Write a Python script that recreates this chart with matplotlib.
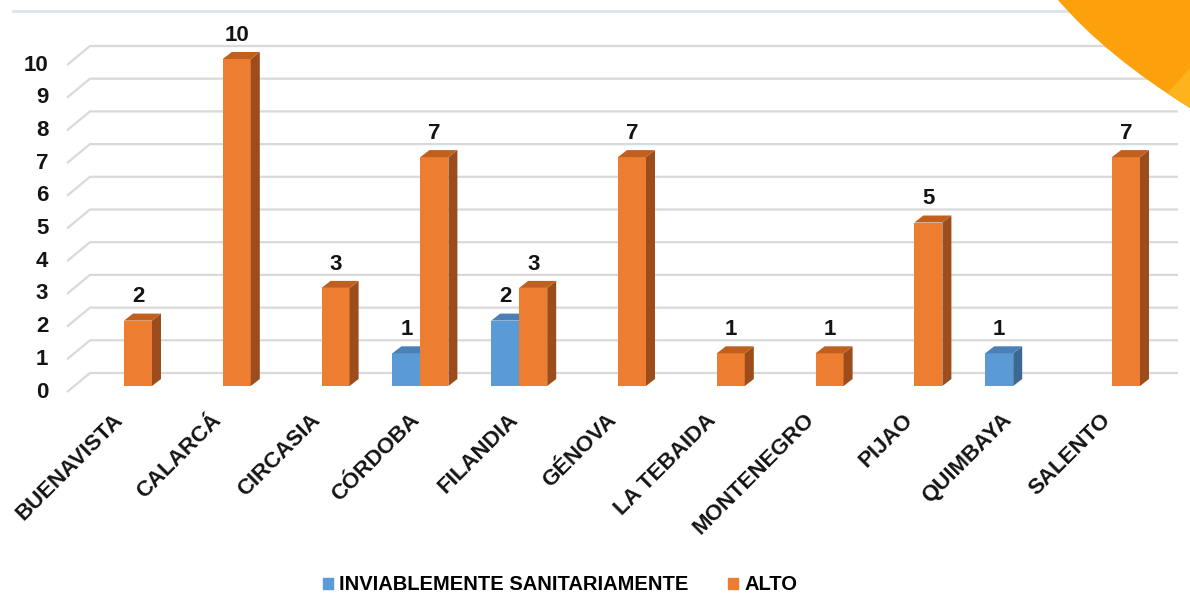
import numpy as np
import matplotlib
matplotlib.use("Agg")
import matplotlib.pyplot as plt
from matplotlib.patches import Polygon, PathPatch, Patch
from matplotlib.path import Path

plt.rcParams["font.family"] = ["Liberation Sans", "DejaVu Sans"]
plt.rcParams["font.weight"] = "bold"

# -----------------------------
# Daten
# -----------------------------
municipios = ["BUENAVISTA", "CALARCÁ", "CIRCASIA", "CÓRDOBA", "FILANDIA", "GÉNOVA",
              "LA TEBAIDA", "MONTENEGRO", "PIJAO", "QUIMBAYA", "SALENTO"]
inviable = [0, 0, 0, 1, 2, 0, 0, 0, 0, 1, 0]
alto = [2, 10, 3, 7, 3, 7, 1, 1, 5, 0, 7]
y_ticks = list(range(0, 11))
series_names = ["INVIABLEMENTE SANITARIAMENTE", "ALTO"]

# Farben (Front, Seite, Deckel)
BLUE = ("#5B9BD5", "#3B6993", "#4A80B5")
ORANGE = ("#ED7D31", "#9C4D1B", "#C0601F")
GRID = "#D9D9D9"
TXT = "#141414"

W, H = 1190, 599
PX_CAT = 98.8   # px pro Kategorie
PX_VAL = 32.7   # px pro Einheit
X0_PX, Y0_PX = 124, 386

BAR_W = 28 / PX_CAT
DDX = 9 / PX_CAT    # 3D-Tiefe
DDY = 7 / PX_VAL

fig = plt.figure(figsize=(W / 100, H / 100), dpi=100)

# Achse so platzieren, dass 1 Kategorie = PX_CAT px und 1 Einheit = PX_VAL px
xlim = (-0.75, 10.75)
ylim = (-0.5, 10.8)
left_px = X0_PX + xlim[0] * PX_CAT
bottom_px = Y0_PX - ylim[0] * PX_VAL
ax = fig.add_axes((left_px / W, (H - bottom_px) / H,
                   (xlim[1] - xlim[0]) * PX_CAT / W,
                   (ylim[1] - ylim[0]) * PX_VAL / H))
ax.set_xlim(*xlim)
ax.set_ylim(*ylim)
ax.axis("off")

# -----------------------------
# Deko (Folienelemente)
# -----------------------------
fig.add_artist(plt.Line2D([13 / W, 1], [1 - 11 / H, 1 - 11 / H],
                          color="#DCE4EB", lw=2, transform=fig.transFigure))
verts = [(1058, 0), (1106, 56), (1190, 108), (1190, 0), (1058, 0)]
codes = [Path.MOVETO, Path.CURVE3, Path.CURVE3, Path.LINETO, Path.CLOSEPOLY]
deco = PathPatch(Path([(x / W, 1 - y / H) for x, y in verts], codes),
                 facecolor="#FCA10C", edgecolor="none", transform=fig.transFigure, zorder=5)
fig.add_artist(deco)
verts2 = [(1190, 68), (1165, 96), (1190, 115), (1190, 68)]
codes2 = [Path.MOVETO, Path.LINETO, Path.LINETO, Path.CLOSEPOLY]
light = PathPatch(Path([(x / W, 1 - y / H) for x, y in verts2], codes2),
                  facecolor="#FDB31C", edgecolor="none", transform=fig.transFigure, zorder=6)
fig.add_artist(light)
light.set_clip_path(deco)

# -----------------------------
# Gitter (Rückwand + Boden-Diagonale)
# -----------------------------
gx_front = (67 - X0_PX) / PX_CAT
gx_back = (90 - X0_PX) / PX_CAT
gx_right = (1178 - X0_PX) / PX_CAT
gdy_front = -6 / PX_VAL
gdy_back = 13 / PX_VAL
for v in y_ticks:
    ax.plot([gx_front, gx_back, gx_right],
            [v + gdy_front, v + gdy_back, v + gdy_back],
            color=GRID, lw=1.6, zorder=1, clip_on=False, solid_capstyle="butt")
    ax.text(gx_front - 0.19, v + gdy_front, str(v), ha="right", va="center",
            fontsize=16, fontweight="bold", color=TXT)


# -----------------------------
# 3D-Säulen
# -----------------------------
def bar3d(x, h, cols, z):
    if h <= 0:
        return
    ax.bar(x, h, width=BAR_W, align="edge", color=cols[0], zorder=z, clip_on=False)
    side = [(x + BAR_W, 0), (x + BAR_W + DDX, DDY), (x + BAR_W + DDX, h + DDY), (x + BAR_W, h)]
    top = [(x, h), (x + DDX, h + DDY), (x + BAR_W + DDX, h + DDY), (x + BAR_W, h)]
    ax.add_patch(Polygon(side, closed=True, facecolor=cols[1], edgecolor="none", zorder=z, clip_on=False))
    ax.add_patch(Polygon(top, closed=True, facecolor=cols[2], edgecolor="none", zorder=z, clip_on=False))
    ax.annotate(str(h), (x + BAR_W / 2, h), xytext=(0, 17), textcoords="offset points",
                ha="center", va="center", fontsize=16, fontweight="bold", color=TXT)


for i in range(len(municipios)):
    bar3d(i - BAR_W, inviable[i], BLUE, 3 + 2 * i)
    bar3d(i, alto[i], ORANGE, 4 + 2 * i)

# Kategorien
for i, name in enumerate(municipios):
    ax.text(i - 0.12, -0.72, name, rotation=45, rotation_mode="anchor",
            ha="right", va="top", fontsize=16, fontweight="bold", color=TXT)

# Legende
handles = [Patch(color=BLUE[0]), Patch(color=ORANGE[0])]
fig.legend(handles, series_names, loc="center", bbox_to_anchor=(560 / W, 1 - 585 / H),
           ncol=2, frameon=False, handlelength=0.5, handleheight=0.5,
           handletextpad=0.3, columnspacing=2.0,
           prop={"size": 14.5, "weight": "bold"})

fig.savefig("out.png", dpi=100)
